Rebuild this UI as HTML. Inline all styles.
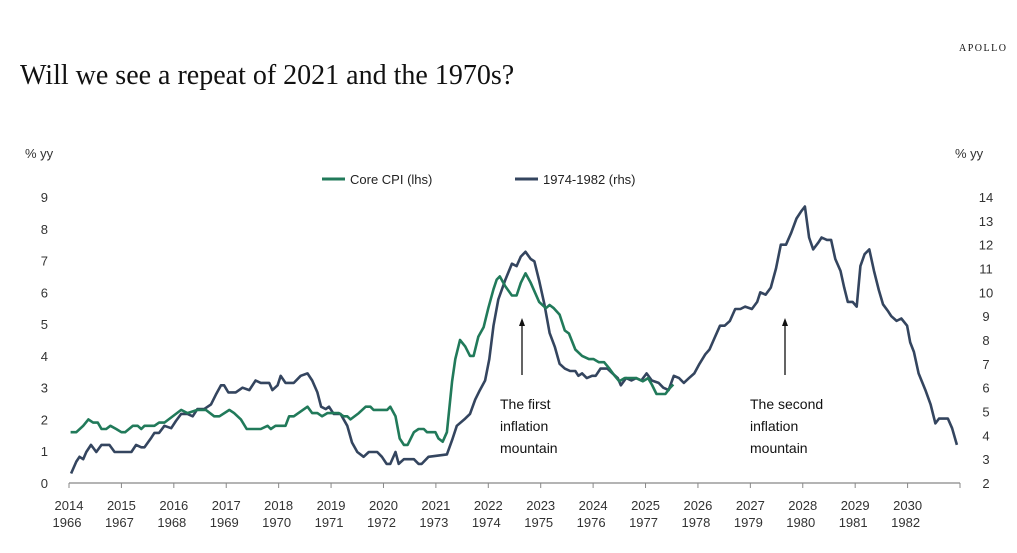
<!DOCTYPE html>
<html><head><meta charset="utf-8"><style>
body{margin:0;background:#fff;width:1017px;height:553px;overflow:hidden;font-family:"Liberation Sans",sans-serif;}
svg{display:block}
</style></head><body>
<svg id="chart" width="1017" height="553">
<text x="20" y="84" font-family="Liberation Serif" font-size="28" fill="#111">Will we see a repeat of 2021 and the 1970s?</text>
<text x="959" y="51" font-family="Liberation Serif" font-size="10" letter-spacing="1.5" fill="#111">APOLLO</text>
<text x="25" y="158" font-size="13" fill="#333">% yy</text>
<text x="955" y="158" font-size="13" fill="#333">% yy</text>
<g>
<line x1="322" y1="179" x2="345" y2="179" stroke="#217a5a" stroke-width="3"/>
<text x="350" y="184" font-size="13" fill="#222">Core CPI (lhs)</text>
<line x1="515" y1="179" x2="538" y2="179" stroke="#34455f" stroke-width="3"/>
<text x="543" y="184" font-size="13" fill="#222">1974-1982 (rhs)</text>
</g>
<g id="axes"></g>
<g id="series"></g>
<g>
<line x1="522" y1="375" x2="522" y2="324" stroke="#111" stroke-width="1.3"/>
<polygon points="522,318 519,326 525,326" fill="#111"/>
<text x="500" y="409" font-size="14" fill="#111">The first</text>
<text x="500" y="431" font-size="14" fill="#111">inflation</text>
<text x="500" y="453" font-size="14" fill="#111">mountain</text>
</g>
<g>
<line x1="785" y1="375" x2="785" y2="324" stroke="#111" stroke-width="1.3"/>
<polygon points="785,318 782,326 788,326" fill="#111"/>
<text x="750" y="409" font-size="14" fill="#111">The second</text>
<text x="750" y="431" font-size="14" fill="#111">inflation</text>
<text x="750" y="453" font-size="14" fill="#111">mountain</text>
</g>
</svg>
<script>
const yearTicks=[2014,2015,2016,2017,2018,2019,2020,2021,2022,2023,2024,2025,2026,2027,2028,2029,2030];
const yearTicks2=[1966,1967,1968,1969,1970,1971,1972,1973,1974,1975,1976,1977,1978,1979,1980,1981,1982];
const leftTicks=[0,1,2,3,4,5,6,7,8,9];
const rightTicks=[2,3,4,5,6,7,8,9,10,11,12,13,14];
const cpiDates=[2014.03,2014.14,2014.27,2014.37,2014.46,2014.55,2014.62,2014.71,2014.79,2014.90,2015.00,2015.07,2015.22,2015.31,2015.38,2015.44,2015.63,2015.72,2015.82,2016.14,2016.26,2016.45,2016.61,2016.77,2016.87,2017.06,2017.15,2017.28,2017.39,2017.66,2017.79,2017.85,2017.94,2018.13,2018.20,2018.29,2018.55,2018.64,2018.74,2018.83,2018.93,2019.15,2019.24,2019.31,2019.37,2019.53,2019.66,2019.75,2019.81,2020.07,2020.13,2020.23,2020.31,2020.39,2020.46,2020.58,2020.67,2020.77,2020.83,2020.99,2021.05,2021.13,2021.21,2021.31,2021.37,2021.46,2021.56,2021.65,2021.72,2021.81,2021.91,2022.00,2022.10,2022.16,2022.22,2022.32,2022.45,2022.54,2022.62,2022.71,2022.81,2022.97,2023.10,2023.17,2023.25,2023.36,2023.46,2023.54,2023.66,2023.79,2023.92,2024.01,2024.11,2024.21,2024.31,2024.40,2024.50,2024.60,2024.69,2024.82,2024.95,2025.05,2025.12,2025.21,2025.38,2025.47,2025.53];
const cpiValues=[1.6,1.6,1.8,2.0,1.9,1.9,1.7,1.7,1.8,1.7,1.6,1.6,1.8,1.8,1.7,1.8,1.8,1.9,1.9,2.3,2.2,2.3,2.3,2.1,2.1,2.3,2.2,2.0,1.7,1.7,1.8,1.7,1.8,1.8,2.1,2.1,2.4,2.2,2.2,2.1,2.2,2.2,2.1,2.1,2.0,2.2,2.4,2.4,2.3,2.3,2.4,2.1,1.4,1.2,1.2,1.6,1.7,1.7,1.6,1.6,1.4,1.3,1.6,3.2,3.9,4.5,4.3,4.0,4.0,4.6,4.9,5.5,6.1,6.4,6.5,6.2,5.9,5.9,6.3,6.6,6.3,5.7,5.5,5.6,5.5,5.3,4.8,4.7,4.2,4.0,3.9,3.9,3.8,3.8,3.6,3.4,3.2,3.3,3.3,3.3,3.2,3.3,3.1,2.8,2.8,3.0,3.1];
const hDates=[2014.04,2014.14,2014.20,2014.27,2014.33,2014.42,2014.52,2014.62,2014.77,2014.87,2015.19,2015.28,2015.38,2015.44,2015.57,2015.63,2015.72,2015.82,2015.95,2016.04,2016.14,2016.26,2016.36,2016.45,2016.58,2016.71,2016.80,2016.90,2016.96,2017.04,2017.18,2017.31,2017.44,2017.56,2017.66,2017.72,2017.82,2017.88,2017.98,2018.04,2018.13,2018.29,2018.42,2018.55,2018.64,2018.74,2018.81,2018.90,2018.96,2019.05,2019.18,2019.31,2019.40,2019.50,2019.62,2019.72,2019.88,2019.97,2020.06,2020.13,2020.23,2020.29,2020.39,2020.58,2020.67,2020.73,2020.86,2021.21,2021.31,2021.40,2021.56,2021.65,2021.75,2021.84,2021.94,2022.02,
2022.10,2022.19,2022.32,2022.45,2022.54,2022.62,2022.71,2022.81,2022.88,2022.97,2023.07,2023.17,2023.27,2023.36,2023.46,2023.56,2023.66,2023.72,2023.79,2023.88,2023.98,2024.05,2024.14,2024.27,2024.37,2024.47,2024.53,2024.63,2024.73,2024.82,2024.92,2025.02,2025.12,2025.25,2025.34,2025.44,2025.54,2025.64,2025.73,2025.83,2025.93,2026.03,2026.14,2026.22,2026.32,2026.42,2026.51,2026.61,2026.71,2026.81,2026.90,2027.03,2027.13,2027.19,2027.29,2027.39,2027.49,2027.58,2027.68,2027.78,2027.88,2027.97,2028.04,2028.12,2028.20,2028.30,2028.36,2028.46,2028.54,2028.62,2028.72,2028.79,2028.86,2028.95,2029.03,2029.10,2029.18,2029.27,2029.36,2029.45,2029.53,2029.63,2029.69,2029.79,2029.88,2029.99,2030.05,2030.12,2030.21,2030.34,2030.44,2030.53,2030.60,2030.77,2030.85,2030.94];
const hValues=[2.4,2.9,3.1,3.0,3.3,3.6,3.3,3.6,3.6,3.3,3.3,3.6,3.5,3.5,3.9,4.1,4.1,4.4,4.3,4.6,4.9,4.9,4.8,5.1,5.1,5.3,5.7,6.1,6.1,5.8,5.8,6.0,5.9,6.3,6.2,6.2,6.2,5.9,6.1,6.5,6.2,6.2,6.5,6.6,6.3,5.8,5.2,5.1,5.2,4.9,4.9,4.4,3.7,3.3,3.1,3.3,3.3,3.1,2.8,2.8,3.3,2.8,3.0,3.0,2.8,2.8,3.1,3.2,3.8,4.4,4.7,4.9,5.5,5.9,6.3,7.2,
8.6,9.7,10.5,11.2,11.1,11.5,11.7,11.4,11.3,10.5,9.5,8.3,7.7,7.0,6.8,6.7,6.7,6.5,6.6,6.4,6.5,6.5,6.8,6.8,6.6,6.4,6.1,6.4,6.3,6.4,6.3,6.6,6.3,6.2,6.0,5.9,6.5,6.4,6.2,6.4,6.6,7.0,7.4,7.6,8.1,8.6,8.6,8.8,9.3,9.3,9.4,9.3,9.6,10.0,9.9,10.2,11.0,12.0,12.0,12.5,13.1,13.4,13.6,12.3,11.8,12.1,12.3,12.2,12.2,11.4,10.9,10.2,9.6,9.6,9.4,11.1,11.6,11.8,10.9,10.1,9.5,9.2,9.0,8.8,8.9,8.6,7.9,7.5,6.6,5.9,5.3,4.5,4.7,4.7,4.3,3.6];
const X0=69,X1=960,Y0=483,Y9=197;
const xs=d=>X0+(d-2014)/17*(X1-X0);
const yl=v=>Y0-v/9*(Y0-Y9);
const yr=v=>Y0-(v-2)/12*(Y0-Y9);
const NS="http://www.w3.org/2000/svg";
function mk(tag,attrs,parent){const e=document.createElementNS(NS,tag);for(const k in attrs)e.setAttribute(k,attrs[k]);parent.appendChild(e);return e;}
const ax=document.getElementById('axes');
const base=mk('line',{x1:X0,y1:Y0,x2:X1,y2:Y0,stroke:'#888','stroke-width':1.2},ax);


yearTicks.forEach((y,i)=>{
 const x=xs(y);
 const t=mk('line',{x1:x,y1:Y0,x2:x,y2:Y0+5,stroke:'#888'},ax);
 
 
 const a=mk('text',{x:x,y:510,'text-anchor':'middle','font-size':13,fill:'#333'},ax);a.textContent=y;
 
 
 const b=mk('text',{x:x-2,y:527,'text-anchor':'middle','font-size':13,fill:'#333'},ax);b.textContent=yearTicks2[i];
 
 
});
const endT=mk('line',{x1:X1,y1:Y0,x2:X1,y2:Y0+5,stroke:'#888'},ax);


leftTicks.forEach(v=>{
 const t=mk('text',{x:48,y:yl(v)+5,'text-anchor':'end','font-size':13,fill:'#333'},ax);t.textContent=v;
 
 
});
rightTicks.forEach(v=>{
 const t=mk('text',{x:986,y:yr(v)+5,'text-anchor':'middle','font-size':13,fill:'#333'},ax);t.textContent=v;
 
 
});
const sg=document.getElementById('series');
const p2=mk('polyline',{points:hDates.map((d,i)=>xs(d).toFixed(1)+','+yr(hValues[i]).toFixed(1)).join(' '),fill:'none',stroke:'#34455f','stroke-width':2.6,'stroke-linejoin':'round'},sg);


const p1=mk('polyline',{points:cpiDates.map((d,i)=>xs(d).toFixed(1)+','+yl(cpiValues[i]).toFixed(1)).join(' '),fill:'none',stroke:'#217a5a','stroke-width':2.6,'stroke-linejoin':'round'},sg);


</script>
</body></html>
